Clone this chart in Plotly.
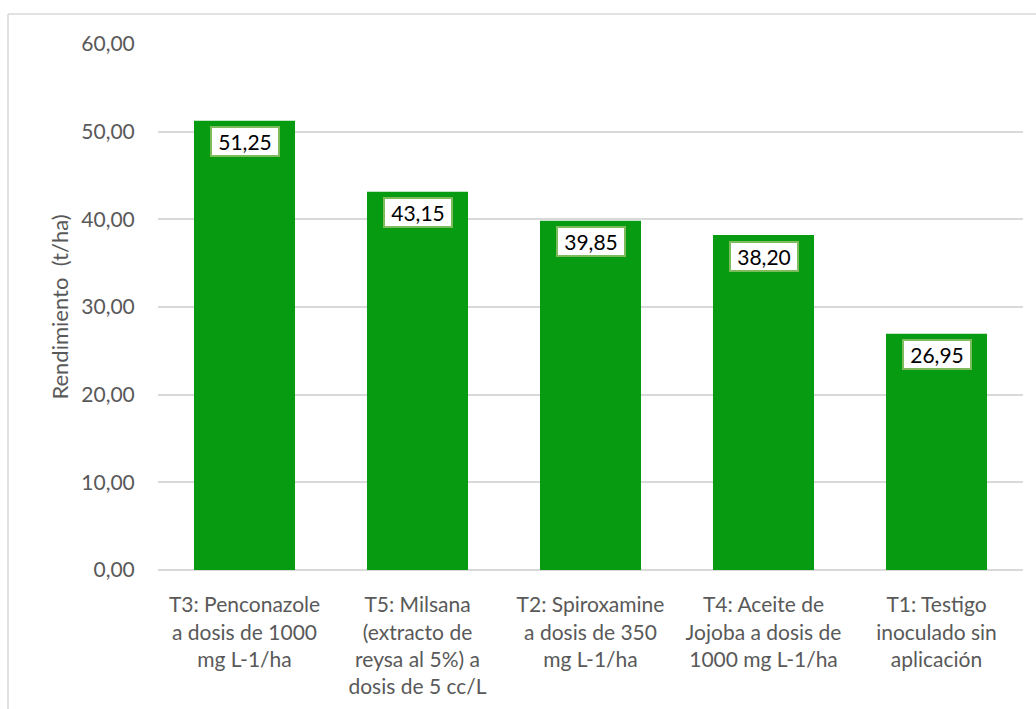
import plotly.graph_objects as go

categories = [
    "T3: Penconazole<br>a dosis de 1000<br>mg L-1/ha",
    "T5: Milsana<br>(extracto de<br>reysa al 5%) a<br>dosis de 5 cc/L",
    "T2: Spiroxamine<br>a dosis de 350<br>mg L-1/ha",
    "T4: Aceite de<br>Jojoba a dosis de<br>1000 mg L-1/ha",
    "T1: Testigo<br>inoculado sin<br>aplicación",
]
values = [51.25, 43.15, 39.85, 38.20, 26.95]
y_ticks = [0, 10, 20, 30, 40, 50, 60]

BAR = "#079B12"
GRID = "#d9d9d9"
TXT = "#595959"
FONT = "Lato"

fig = go.Figure()
fig.add_trace(go.Bar(x=categories, y=values, marker=dict(color=BAR, line=dict(width=0)),
                     hoverinfo="skip"))

annotations = []
for c, v in zip(categories, values):
    annotations.append(dict(
        x=c, y=v, xref="x", yref="y", text=f"{v:.2f}".replace(".", ","),
        showarrow=False, yanchor="middle", yshift=-21,
        width=64, height=25, align="center", valign="middle",
        font=dict(family=FONT, size=21, color="#000000"),
        bgcolor="#ffffff", bordercolor="#7dbb5c", borderwidth=2, borderpad=1,
    ))

L, R, T, B = 158, 13, 44, 139
W, H = 1036, 709
pw, ph = W - L - R, H - T - B
def px(xp): return (xp - L) / pw
def py(yp): return (H - B - yp) / ph

shapes = [
    dict(type="line", xref="paper", yref="paper", x0=px(8), x1=px(1045), y0=py(14), y1=py(14),
         line=dict(color=GRID, width=1.5)),
    dict(type="line", xref="paper", yref="paper", x0=px(8), x1=px(8), y0=py(14), y1=py(720),
         line=dict(color=GRID, width=1.5)),
]

fig.update_layout(
    width=W, height=H,
    margin=dict(l=L, r=R, t=T, b=B),
    paper_bgcolor="#ffffff", plot_bgcolor="#ffffff",
    separators=",.",
    bargap=0.416,
    showlegend=False,
    annotations=annotations,
    shapes=shapes,
    font=dict(family=FONT, color=TXT),
)
fig.update_xaxes(
    tickfont=dict(family=FONT, size=21, color=TXT),
    showgrid=False, showline=False, ticks="outside", ticklen=16, tickcolor="rgba(0,0,0,0)",
    tickangle=0,
)
fig.update_yaxes(
    range=[0, 60], tickvals=y_ticks, tickformat=".2f",
    tickfont=dict(family=FONT, size=21, color=TXT),
    showgrid=True, gridcolor=GRID, gridwidth=1.5,
    zeroline=True, zerolinecolor=GRID, zerolinewidth=1.5,
    ticks="outside", ticklen=18, tickcolor="rgba(0,0,0,0)",
    title=dict(text="Rendimiento  (t/ha)", font=dict(family=FONT, size=22, color=TXT), standoff=6),
)

fig.write_html("out.html")
